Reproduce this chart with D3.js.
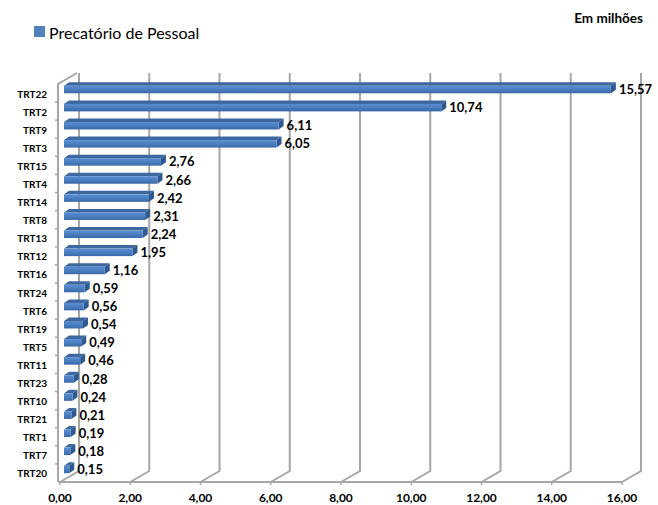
<!DOCTYPE html>
<html>
<head>
<meta charset="utf-8">
<script src="https://cdn.jsdelivr.net/npm/d3@7/dist/d3.min.js"></script>
<style>
  html, body { margin: 0; padding: 0; background: #fff; }
  svg { display: block; }
  text { font-family: Lato, "Open Sans", sans-serif; }
</style>
</head>
<body>
<svg id="chart" width="658" height="505"></svg>
<script>
// Tribunais (categorias) e valores em milhões
const categories = ["TRT22","TRT2","TRT9","TRT3","TRT15","TRT4","TRT14","TRT8","TRT13","TRT12","TRT16",
                    "TRT24","TRT6","TRT19","TRT5","TRT11","TRT23","TRT10","TRT21","TRT1","TRT7","TRT20"];
const values = [15.57,10.74,6.11,6.05,2.76,2.66,2.42,2.31,2.24,1.95,1.16,
                0.59,0.56,0.54,0.49,0.46,0.28,0.24,0.21,0.19,0.18,0.15];
const xTicks = [0,2,4,6,8,10,12,14,16];
const seriesName = "Precatório de Pessoal";
const unitLabel = "Em milhões";

const svg = d3.select("#chart");
const fmt = v => v.toFixed(2).replace(".", ",");

// front plane of the 3D box
const plotLeft = 60, plotRight = 622, plotTop = 84, plotBottom = 482;
const depth = { dx: 19, dy: -11 };          // wall depth
const barOff = { dx: 4, dy: -3.5 };         // bar front face offset
const barDepth = { dx: 5, dy: -3.5 };       // bar thickness
const barH = 7.5;

const x = d3.scaleLinear().domain([0, 16]).range([plotLeft, plotRight]);
const y = d3.scaleBand().domain(categories).range([plotTop, plotBottom]).paddingInner(0).paddingOuter(0);

const defs = svg.append("defs");
const grad = defs.append("linearGradient").attr("id", "front").attr("x1", 0).attr("y1", 0).attr("x2", 0).attr("y2", 1);
grad.append("stop").attr("offset", "0%").attr("stop-color", "#5b8ed1");
grad.append("stop").attr("offset", "50%").attr("stop-color", "#4a7ec0");
grad.append("stop").attr("offset", "100%").attr("stop-color", "#3a69a6");

const grid = svg.append("g").attr("fill", "none").attr("stroke", "#a6a6a6").attr("stroke-width", 2);

// vertical gridlines on the back wall + floor diagonals
xTicks.forEach(t => {
  const xf = x(t), xb = xf + depth.dx;
  grid.append("path").attr("d",
    `M${xb},${plotTop + depth.dy}L${xb},${plotBottom + depth.dy}L${xf},${plotBottom}`);
});
// left wall outline
grid.append("path").attr("d",
  `M${plotLeft - 2},${plotBottom}L${plotLeft - 2},${plotTop}L${plotLeft - 2 + depth.dx},${plotTop + depth.dy}`);
// floor front edge
grid.append("path").attr("d", `M${plotLeft - 2},${plotBottom}L${plotRight},${plotBottom}`);

// category ticks on the left wall
const ticks = svg.append("g").attr("stroke", "#a6a6a6").attr("stroke-width", 1.5);
categories.forEach((c, i) => {
  const yy = y(c) + y.bandwidth();
  if (i < categories.length - 1)
    ticks.append("line").attr("x1", plotLeft - 5).attr("x2", plotLeft - 2).attr("y1", yy).attr("y2", yy);
});
xTicks.forEach(t => {
  ticks.append("line").attr("x1", x(t)).attr("x2", x(t)).attr("y1", plotBottom).attr("y2", plotBottom + 3);
});

// bars
const bars = svg.append("g");
categories.forEach((c, i) => {
  const v = values[i];
  const cy = y(c) + y.bandwidth() / 2 + barOff.dy;
  const x0 = x(0) + barOff.dx, x1 = x(v) + barOff.dx;
  const y0 = cy - barH / 2, y1 = cy + barH / 2;
  const dx = barDepth.dx, dy = barDepth.dy;
  // top face
  bars.append("path").attr("fill", "#3c679f")
    .attr("d", `M${x0},${y0}L${x0 + dx},${y0 + dy}L${x1 + dx},${y0 + dy}L${x1},${y0}Z`);
  // end face
  bars.append("path").attr("fill", "#2f5a91")
    .attr("d", `M${x1},${y0}L${x1 + dx},${y0 + dy}L${x1 + dx},${y1 + dy}L${x1},${y1}Z`);
  // front face
  bars.append("rect").attr("x", x0).attr("y", y0).attr("width", x1 - x0).attr("height", barH)
    .attr("fill", "url(#front)");
  // value label
  svg.append("text").attr("x", x(v) + 12).attr("y", cy - 0.5)
    .attr("dominant-baseline", "central")
    .attr("font-size", 13).attr("font-weight", 700).attr("fill", "#000")
    .text(fmt(v));
});

// category labels
svg.append("g").selectAll("text").data(categories).join("text")
  .attr("x", 47).attr("y", d => y(d) + y.bandwidth() / 2 + 0.5)
  .attr("text-anchor", "end").attr("dominant-baseline", "central")
  .attr("font-size", 10).attr("font-weight", 700).text(d => d);

// x tick labels
svg.append("g").selectAll("text").data(xTicks).join("text")
  .attr("x", d => x(d)).attr("y", 497.5)
  .attr("text-anchor", "middle").attr("dominant-baseline", "central")
  .attr("font-size", 12).attr("font-weight", 700).text(d => fmt(d));

// legend
svg.append("rect").attr("x", 34).attr("y", 26).attr("width", 11).attr("height", 11).attr("fill", "#4f81bd");
svg.append("text").attr("x", 49).attr("y", 32).attr("dominant-baseline", "central")
  .attr("font-size", 16).attr("fill", "#000").text(seriesName);

// unit note
svg.append("text").attr("x", 643).attr("y", 18).attr("text-anchor", "end").attr("dominant-baseline", "central")
  .attr("font-size", 13.5).attr("font-weight", 700).text(unitLabel);
</script>
</body>
</html>
